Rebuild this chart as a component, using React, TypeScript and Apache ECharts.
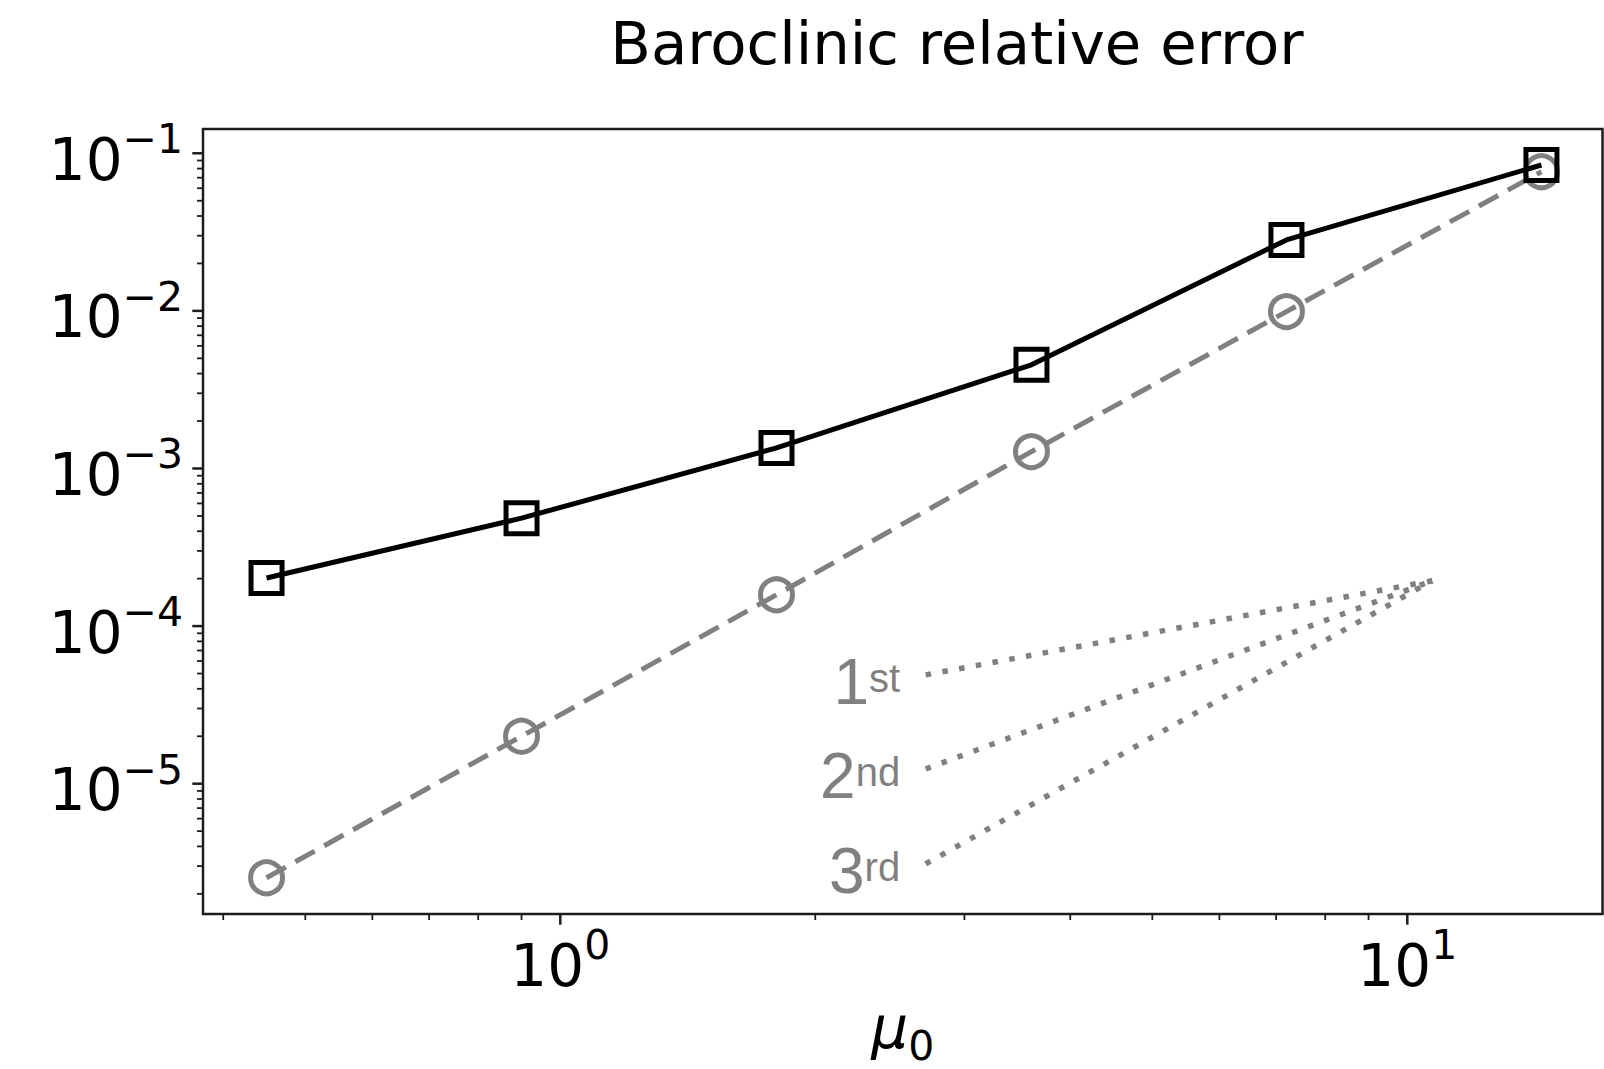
import { useEffect, useRef } from 'react';
import * as echarts from 'echarts';

// ---- data ----
const TITLE = 'Baroclinic relative error';
const muValues = [0.45, 0.9, 1.8, 3.6, 7.2, 14.4];
const errorSquares = [2.02e-4, 4.84e-4, 1.35e-3, 4.55e-3, 2.82e-2, 8.43e-2];
const errorCircles = [2.53e-6, 2.0e-5, 1.58e-4, 1.28e-3, 9.9e-3, 7.64e-2];

const refX = [2.7, 10.7];
const ref1st = [4.9e-5, 1.94e-4];
const ref2nd = [1.24e-5, 1.94e-4];
const ref3rd = [3.1e-6, 1.94e-4];
const refLabelMain = ['1', '2', '3'];
const refLabelSup = ['st', 'nd', 'rd'];

const xRange = [0.3786, 17.0];
const yRange = [1.49e-6, 0.1426];
const xMajorTicks = [1, 10];
const xMinorTicks = [0.4, 0.5, 0.6, 0.7, 0.8, 0.9, 2, 3, 4, 5, 6, 7, 8, 9];
const yMajorTicks = [1e-5, 1e-4, 1e-3, 1e-2, 1e-1];
const yDecades = [1e-6, 1e-5, 1e-4, 1e-3, 1e-2];
const mantissas = [2, 3, 4, 5, 6, 7, 8, 9];

const FONT = 'DejaVu Sans';
const AXIS_COLOR = '#1c1c1c';
const GRAY = '#808080';

const yMinorTicks: number[] = [];
yDecades.forEach((d) =>
  mantissas.forEach((m) => {
    const v = m * d;
    if (v > yRange[0] && v < yRange[1]) yMinorTicks.push(v);
  })
);

const TICK_REF_X = 1;
const TICK_REF_Y = 1e-3;

function tickSeries(dir: 'x' | 'y', values: number[], len: number, width: number) {
  return {
    type: 'custom',
    silent: true,
    clip: false,
    z: 10,
    data: values.map((v) => (dir === 'x' ? [v, TICK_REF_Y] : [TICK_REF_X, v])),
    encode: { x: 0, y: 1 },
    renderItem: (params: any, api: any) => {
      const cs = params.coordSys;
      const p = api.coord([api.value(0), api.value(1)]);
      if (dir === 'x') {
        const yb = cs.y + cs.height;
        return {
          type: 'line',
          shape: { x1: p[0], y1: yb, x2: p[0], y2: yb + len },
          style: { stroke: AXIS_COLOR, lineWidth: width },
        };
      }
      const xl = cs.x;
      return {
        type: 'line',
        shape: { x1: xl - len, y1: p[1], x2: xl, y2: p[1] },
        style: { stroke: AXIS_COLOR, lineWidth: width },
      };
    },
  };
}

const powLabel = (v: number) => {
  const e = Math.round(Math.log10(v));
  const s = e < 0 ? '\u2212' + String(-e) : String(e);
  return `{b|10}{s|${s}}`;
};

const tickRich = {
  b: { fontFamily: FONT, fontSize: 58, lineHeight: 82, color: '#000' },
  s: { fontFamily: FONT, fontSize: 41, lineHeight: 40, verticalAlign: 'top', color: '#000' },
};

const refLine = (ys: number[], idx: number) => ({
  type: 'line',
  silent: true,
  symbol: 'circle',
  symbolSize: 1,
  showSymbol: true,
  itemStyle: { color: 'rgba(0,0,0,0)', borderWidth: 0 },
  lineStyle: { color: GRAY, width: 5.5, type: [5.5, 11.5], cap: 'butt' },
  z: 3,
  data: refX.map((x, i) =>
    i === 0
      ? {
          value: [x, ys[i]],
          label: {
            show: true,
            position: 'left',
            distance: 25,
            offset: [0, 7],
            formatter: `{n|${refLabelMain[idx]}}{s|${refLabelSup[idx]}}`,
            rich: {
              n: { fontFamily: 'Liberation Sans', fontSize: 64, lineHeight: 48, color: GRAY },
              s: {
                fontFamily: 'Liberation Sans',
                fontSize: 40,
                lineHeight: 44,
                verticalAlign: 'top',
                color: GRAY,
              },
            },
          },
        }
      : [x, ys[i]]
  ),
});

export default function App() {
  const ref = useRef<HTMLDivElement>(null);
  useEffect(() => {
    const chart = echarts.init(ref.current!, null, { renderer: 'svg' });
    const option: any = {
      animation: false,
      backgroundColor: '#ffffff',
      title: {
        text: TITLE,
        left: 957,
        top: 13.5,
        textAlign: 'center',
        padding: 0,
        textStyle: {
          fontFamily: FONT,
          fontSize: 59.3,
          lineHeight: 59,
          fontWeight: 'normal',
          color: '#000',
        },
      },
      grid: {
        left: 203,
        top: 129,
        right: 1.5,
        bottom: 155,
        containLabel: false,
        outerBoundsMode: 'none',
        show: true,
        borderColor: AXIS_COLOR,
        borderWidth: 2.5,
        backgroundColor: 'transparent',
      },
      xAxis: {
        type: 'log',
        logBase: 10,
        min: xRange[0],
        max: xRange[1],
        axisLine: { show: false },
        axisTick: { show: false },
        splitLine: { show: false },
        name: '{m|\u03bc}{s|0}',
        nameLocation: 'middle',
        nameGap: 76,
        nameTextStyle: {
          fontFamily: FONT,
          fontSize: 58,
          color: '#000',
          rich: {
            m: { fontFamily: FONT, fontSize: 58, lineHeight: 76, fontStyle: 'italic', color: '#000' },
            s: { fontFamily: FONT, fontSize: 41, lineHeight: 48, verticalAlign: 'bottom', color: '#000' },
          },
        },
        axisLabel: {
          margin: 10.5,
          showMinLabel: false,
          showMaxLabel: false,
          formatter: powLabel,
          color: '#000',
          fontFamily: FONT,
          rich: tickRich,
        },
      },
      yAxis: {
        type: 'log',
        logBase: 10,
        min: yRange[0],
        max: yRange[1],
        axisLine: { show: false },
        axisTick: { show: false },
        splitLine: { show: false },
        axisLabel: {
          margin: 20,
          padding: [13, 0, 0, 0],
          showMinLabel: false,
          showMaxLabel: false,
          formatter: powLabel,
          color: '#000',
          fontFamily: FONT,
          rich: tickRich,
        },
      },
      series: [
        tickSeries('x', xMajorTicks, 10.7, 2.5),
        tickSeries('x', xMinorTicks, 6, 1.8),
        tickSeries('y', yMajorTicks, 10.7, 2.5),
        tickSeries('y', yMinorTicks, 6, 1.8),
        refLine(ref1st, 0),
        refLine(ref2nd, 1),
        refLine(ref3rd, 2),
        {
          type: 'line',
          name: 'circles',
          data: muValues.map((m, i) => [m, errorCircles[i]]),
          symbol: 'circle',
          symbolSize: 32,
          showSymbol: true,
          lineStyle: { color: GRAY, width: 5, type: [22, 11], cap: 'butt' },
          itemStyle: { color: 'rgba(0,0,0,0)', borderColor: GRAY, borderWidth: 5 },
          z: 4,
        },
        {
          type: 'line',
          name: 'squares',
          data: muValues.map((m, i) => [m, errorSquares[i]]),
          symbol: 'rect',
          symbolSize: 31,
          showSymbol: true,
          lineStyle: { color: '#000', width: 5 },
          itemStyle: { color: 'rgba(0,0,0,0)', borderColor: '#000', borderWidth: 5 },
          z: 5,
        },
      ],
    };
    chart.setOption(option);
    return () => chart.dispose();
  }, []);
  return (
    <div
      ref={ref}
      style={{ position: 'fixed', left: 0, top: 0, width: 1604, height: 1069, background: '#fff' }}
    />
  );
}
